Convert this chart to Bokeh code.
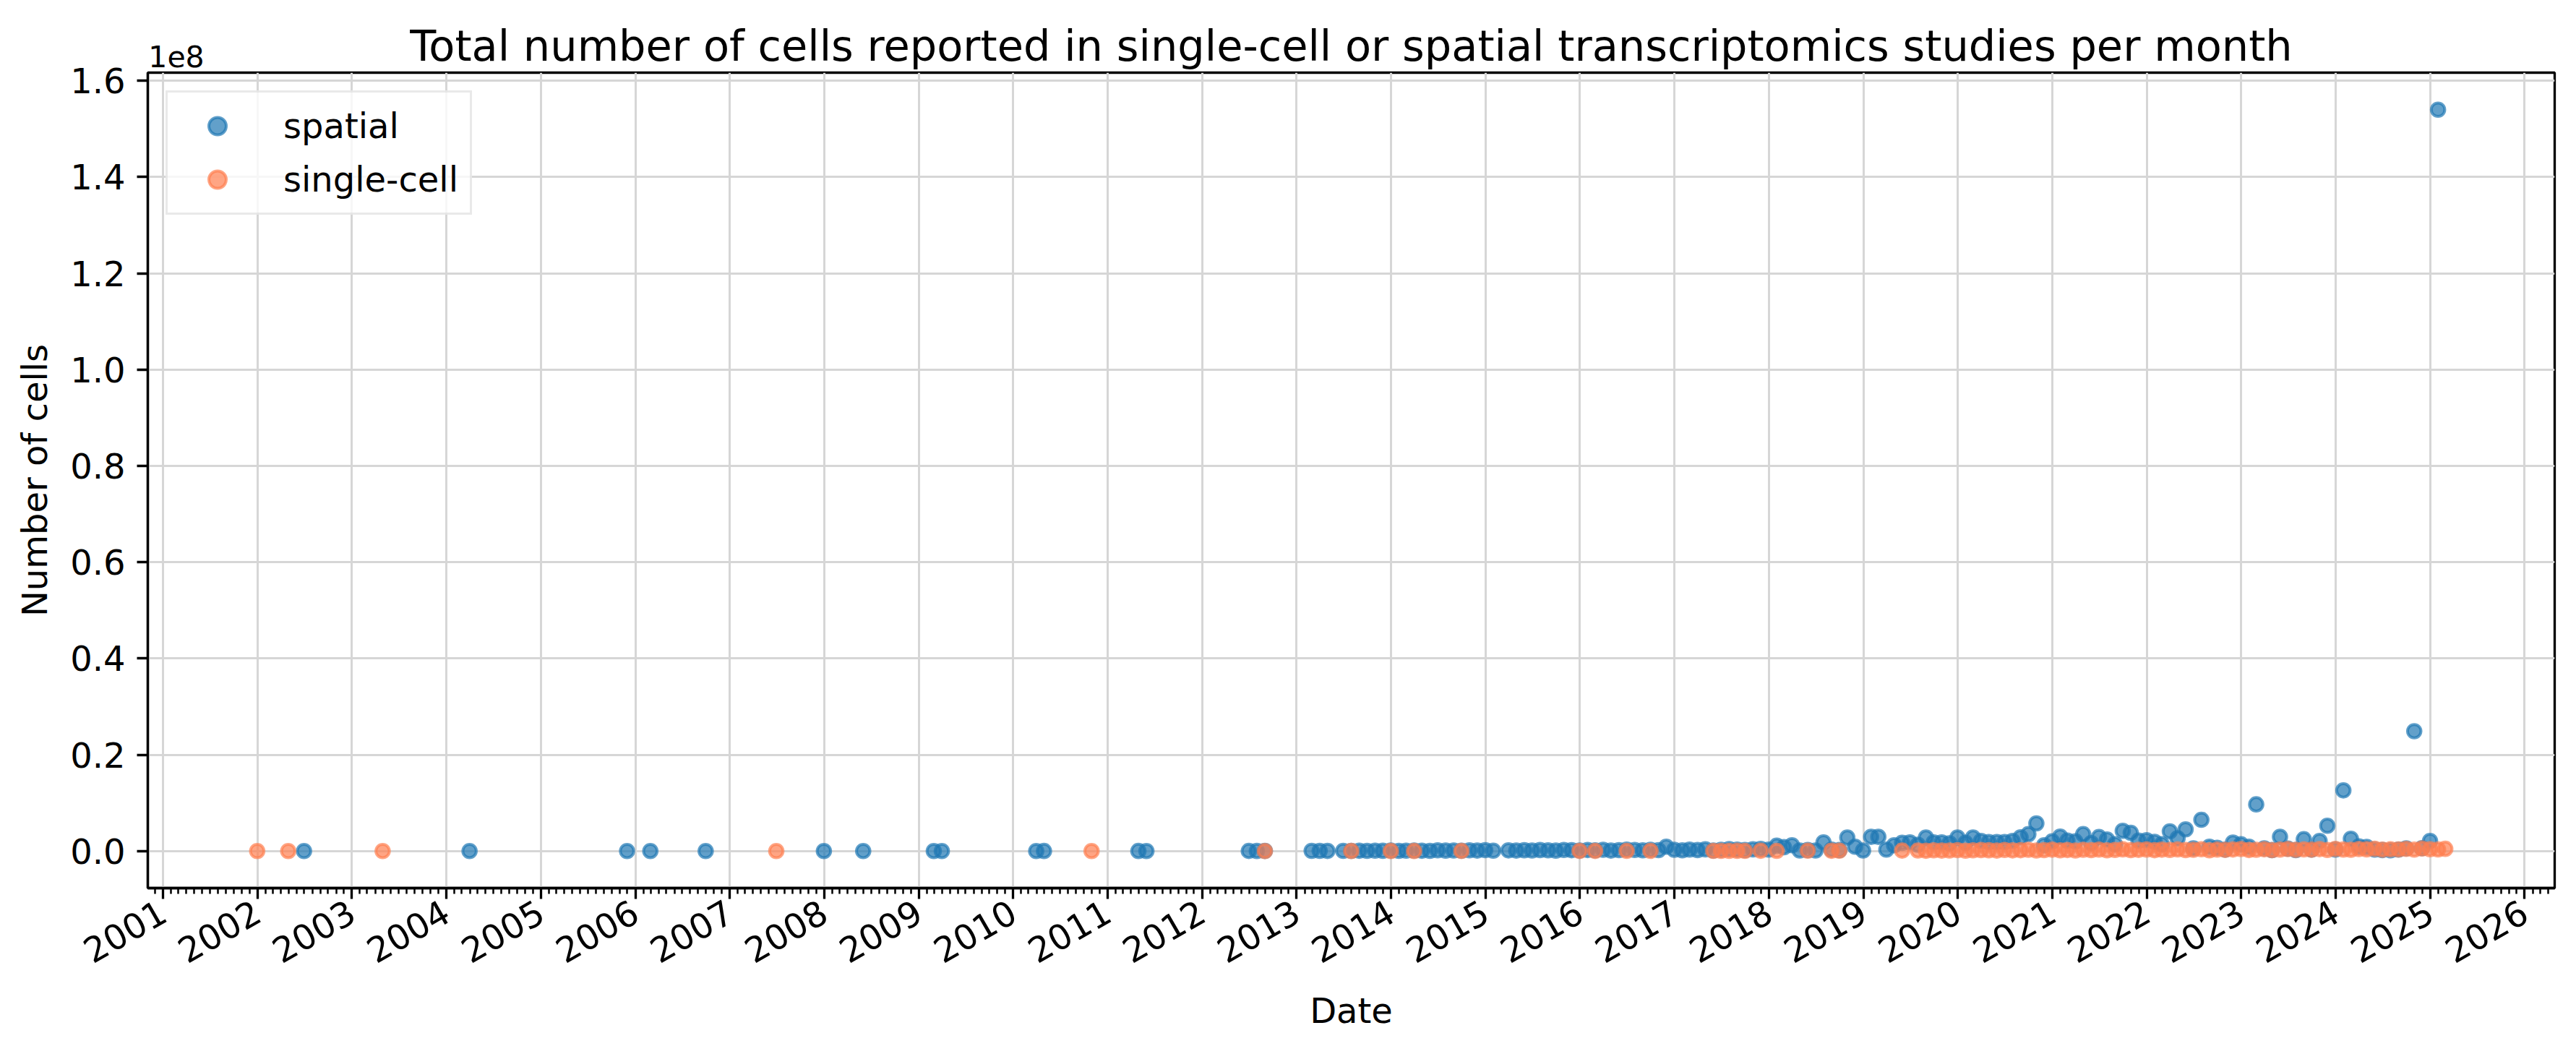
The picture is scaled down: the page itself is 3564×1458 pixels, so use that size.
import math
import pandas as pd
from bokeh.plotting import figure
from bokeh.models import (ColumnDataSource, Range1d, FixedTicker, SingleIntervalTicker, LinearAxis,
                          DatetimeTickFormatter, CustomJSTickFormatter, Legend, LegendItem)
from bokeh.embed import file_html
from bokeh.resources import INLINE

# ---------------- data (monthly totals) ----------------
spatial_months = [
    "2002-06", "2004-03", "2005-11", "2006-02", "2006-09", "2007-12", "2008-05",
    "2009-02", "2009-03", "2010-03", "2010-04", "2011-04", "2011-05",
    "2012-06", "2012-07", "2012-08", "2013-02", "2013-03", "2013-04",
    "2013-06", "2013-07", "2013-08", "2013-09", "2013-10", "2013-11", "2013-12",
    "2014-01", "2014-02", "2014-03", "2014-04", "2014-05", "2014-06",
    "2014-07", "2014-08", "2014-09", "2014-10", "2014-11", "2014-12",
    "2015-01", "2015-03", "2015-04", "2015-05", "2015-06", "2015-07", "2015-08",
    "2015-09", "2015-10", "2015-11", "2015-12",
    "2016-01", "2016-02", "2016-03", "2016-04", "2016-05", "2016-06",
    "2016-07", "2016-08", "2016-09", "2016-10", "2016-11", "2016-12",
    "2017-01", "2017-02", "2017-03", "2017-04", "2017-05", "2017-06",
    "2017-07", "2017-08", "2017-09", "2017-10", "2017-11", "2017-12",
    "2018-01", "2018-02", "2018-03", "2018-04", "2018-05", "2018-06",
    "2018-07", "2018-08", "2018-09", "2018-10", "2018-11", "2018-12",
    "2019-01", "2019-02", "2019-03", "2019-04", "2019-05", "2019-06",
    "2019-07", "2019-08", "2019-09", "2019-10", "2019-11", "2019-12",
    "2020-01", "2020-02", "2020-03", "2020-04", "2020-05", "2020-06",
    "2020-07", "2020-08", "2020-09", "2020-10", "2020-11", "2020-12",
    "2021-01", "2021-02", "2021-03", "2021-04", "2021-05", "2021-06",
    "2021-07", "2021-08", "2021-09", "2021-10", "2021-11", "2021-12",
    "2022-01", "2022-02", "2022-03", "2022-04", "2022-05", "2022-06",
    "2022-07", "2022-08", "2022-09", "2022-10", "2022-11", "2022-12",
    "2023-01", "2023-02", "2023-03", "2023-04", "2023-05", "2023-06",
    "2023-07", "2023-08", "2023-09", "2023-10", "2023-11", "2023-12",
    "2024-01", "2024-02", "2024-03", "2024-04", "2024-05", "2024-06",
    "2024-07", "2024-08", "2024-09", "2024-10", "2024-11", "2024-12",
    "2025-01",
]
spatial_cells = [
    1200, 3000, 2500, 4000, 1500, 6000, 2000,
    8000, 3000, 5000, 12000, 9000, 7000,
    15000, 10000, 20000, 30000, 25000, 18000,
    40000, 25000, 60000, 35000, 80000, 50000, 90000,
    45000, 70000, 120000, 60000, 30000, 150000,
    85000, 110000, 65000, 140000, 95000, 180000,
    75000, 130000, 90000, 160000, 110000, 200000, 140000,
    85000, 230000, 170000, 120000,
    210000, 150000, 260000, 95000, 180000, 300000,
    220000, 140000, 270000, 190000, 900000, 250000,
    150000, 300000, 200000, 350000, 100000, 250000,
    400000, 300000, 200000, 350000, 450000, 300000,
    1100000, 800000, 1200000, 100000, 200000, 100000,
    1800000, 300000, 200000, 2800000, 900000, 100000,
    2950000, 2950000, 300000, 1200000, 1700000, 1800000,
    1300000, 2800000, 1800000, 1800000, 1600000, 2800000,
    1700000, 2800000, 2100000, 1850000, 1850000, 1850000,
    2100000, 2850000, 3500000, 5750000, 1200000, 2000000,
    3000000, 2150000, 2000000, 3500000, 1650000, 2900000,
    2400000, 1400000, 4200000, 3800000, 2150000, 2250000,
    1900000, 1400000, 4100000, 2650000, 4500000, 550000,
    6500000, 900000, 650000, 300000, 1750000, 1400000,
    900000, 9700000, 550000, 200000, 2950000, 500000,
    200000, 2450000, 300000, 2100000, 5250000, 300000,
    12600000, 2550000, 950000, 850000, 300000, 200000,
    150000, 300000, 550000, 24900000, 600000, 2100000,
    154000000,
]

single_months = [
    "2001-12", "2002-04", "2003-04", "2007-06", "2010-10", "2012-08",
    "2013-07", "2013-12", "2014-03", "2014-09", "2015-12", "2016-02",
    "2016-06", "2016-09", "2017-05", "2017-06", "2017-07", "2017-08",
    "2017-09", "2017-11", "2018-01", "2018-05", "2018-08", "2018-09",
    "2019-05", "2019-07", "2019-08", "2019-09", "2019-10", "2019-11", "2019-12",
    "2020-01", "2020-02", "2020-03", "2020-04", "2020-05", "2020-06",
    "2020-07", "2020-08", "2020-09", "2020-10", "2020-11", "2020-12",
    "2021-01", "2021-02", "2021-03", "2021-04", "2021-05", "2021-06",
    "2021-07", "2021-08", "2021-09", "2021-10", "2021-11", "2021-12",
    "2022-01", "2022-02", "2022-03", "2022-04", "2022-05", "2022-06",
    "2022-07", "2022-08", "2022-09", "2022-10", "2022-11", "2022-12",
    "2023-01", "2023-02", "2023-03", "2023-04", "2023-05", "2023-06",
    "2023-07", "2023-08", "2023-09", "2023-10", "2023-11", "2023-12",
    "2024-01", "2024-02", "2024-03", "2024-04", "2024-05", "2024-06",
    "2024-07", "2024-08", "2024-09", "2024-10", "2024-11", "2024-12",
    "2025-01", "2025-02",
]
single_cells = [
    400, 1000, 1500, 2000, 5000, 8000,
    10000, 12000, 9000, 15000, 20000, 18000,
    25000, 30000, 40000, 22000, 35000, 50000,
    28000, 60000, 45000, 80000, 55000, 70000,
    90000, 120000, 60000, 150000, 95000, 110000, 180000,
    75000, 140000, 200000, 160000, 90000, 230000,
    130000, 170000, 250000, 110000, 190000, 280000,
    150000, 210000, 120000, 260000, 180000, 300000,
    140000, 220000, 350000, 190000, 240000, 310000,
    170000, 280000, 230000, 330000, 200000, 260000,
    380000, 150000, 290000, 240000, 320000, 410000,
    210000, 270000, 360000, 190000, 300000, 420000,
    250000, 330000, 280000, 390000, 230000, 450000,
    310000, 260000, 400000, 350000, 480000, 290000,
    370000, 330000, 440000, 300000, 520000, 380000,
    340000, 460000,
]

year_ticks = list(range(2001, 2027))
series_names = ["spatial", "single-cell"]
series_colors = ["#1f77b4", "#ff7f50"]
title_text = "Total number of cells reported in single-cell or spatial transcriptomics studies per month"
offset_text = "1e8"

# ---------------- processing ----------------
def month_end(months):
    return pd.PeriodIndex(months, freq="M").to_timestamp(how="end").normalize()

sp_x = month_end(spatial_months)
sc_x = month_end(single_months)

src_sp = ColumnDataSource(dict(x=sp_x, y=spatial_cells))
src_sc = ColumnDataSource(dict(x=sc_x, y=single_cells))

all_x = sp_x.append(sc_x)
xmin, xmax = all_x.min(), all_x.max()
xspan = xmax - xmin
x0 = xmin - 0.05 * xspan
x1 = xmax + 0.05 * xspan
all_y = list(spatial_cells) + list(single_cells)
ymin, ymax = min(all_y), max(all_y)
yspan = ymax - ymin
y0 = ymin - 0.05 * yspan
y1 = ymax + 0.05 * yspan

def ms(ts):
    return pd.Timestamp(ts).value / 1e6

FONT = "DejaVu Sans"
W, H = 3564, 1458
BL, BR, BT, BB = 204, 30, 100, 230
frame_w = W - BL - BR

p = figure(width=W, height=H, x_axis_type="datetime",
           output_backend="svg", toolbar_location=None, title=None,
           x_range=Range1d(ms(x0), ms(x1)), y_range=Range1d(y0, y1),
           min_border_left=BL, min_border_right=BR,
           min_border_top=BT, min_border_bottom=BB)

p.background_fill_color = "white"
p.border_fill_color = "white"
p.outline_line_color = "black"
p.outline_line_width = 3.3

# x axis
major = [ms(f"{y}-01-01") for y in year_ticks]
minor = [ms(t) for t in pd.date_range(pd.Timestamp(x0).to_period("M").to_timestamp(),
                                       x1, freq="MS")]
p.xaxis.ticker = FixedTicker(ticks=major, minor_ticks=minor)
p.xaxis.formatter = DatetimeTickFormatter(years="%Y", months="%Y", days="%Y", hours="%Y",
                                          hourmin="%Y", minutes="%Y", minsec="%Y",
                                          seconds="%Y", milliseconds="%Y", microseconds="%Y")
p.xaxis.major_label_orientation = math.pi / 6
p.xaxis.axis_label = "Date"

# y axis
p.yaxis.ticker = SingleIntervalTicker(interval=2e7, num_minor_ticks=0)
p.yaxis.formatter = CustomJSTickFormatter(code="return (tick / 1e8).toFixed(1);")
p.yaxis.axis_label = "Number of cells"

for ax in (p.xaxis[0], p.yaxis[0]):
    ax.axis_line_color = "black"
    ax.axis_line_width = 3.3
    ax.major_tick_line_color = "black"
    ax.major_tick_line_width = 3.3
    ax.major_tick_out = 15
    ax.major_tick_in = 0
    ax.minor_tick_line_color = "black"
    ax.minor_tick_line_width = 2.5
    ax.minor_tick_out = 8
    ax.minor_tick_in = 0
    ax.major_label_text_font = FONT
    ax.major_label_text_font_size = "48px"
    ax.major_label_text_color = "black"
    ax.axis_label_text_font = FONT
    ax.axis_label_text_font_size = "48px"
    ax.axis_label_text_font_style = "normal"
    ax.axis_label_text_color = "black"

p.xaxis.major_label_standoff = 14
p.xaxis.axis_label_standoff = 18
p.yaxis.major_label_standoff = 16
p.yaxis.axis_label_standoff = 18

p.xgrid.grid_line_color = "#d6d6d6"
p.ygrid.grid_line_color = "#d6d6d6"
p.xgrid.grid_line_width = 3
p.ygrid.grid_line_width = 3

# top "axis": carries the scientific offset text as its only tick label and the title as its label
ms_per_px = (ms(x1) - ms(x0)) / frame_w
offset_pos = ms(x0) + 39.5 * ms_per_px
top = LinearAxis(ticker=FixedTicker(ticks=[offset_pos], minor_ticks=[]),
                 formatter=CustomJSTickFormatter(code=f"return '{offset_text}';"),
                 axis_label=title_text)
top.axis_line_color = None
top.major_tick_line_color = None
top.minor_tick_line_color = None
top.major_tick_out = 0
top.major_tick_in = 0
top.major_label_standoff = 8
top.major_label_text_font = FONT
top.major_label_text_font_size = "41px"
top.major_label_text_color = "black"
top.axis_label_text_font = FONT
top.axis_label_text_font_size = "59px"
top.axis_label_text_font_style = "normal"
top.axis_label_text_color = "black"
top.axis_label_standoff = -38
p.add_layout(top, "above")

# scatter
r1 = p.scatter("x", "y", source=src_sp, size=18.6, line_width=4,
               fill_color=series_colors[0], line_color=series_colors[0],
               fill_alpha=0.7, line_alpha=0.7)
r2 = p.scatter("x", "y", source=src_sc, size=18.6, line_width=4,
               fill_color=series_colors[1], line_color=series_colors[1],
               fill_alpha=0.7, line_alpha=0.7)

legend = Legend(items=[LegendItem(label=series_names[0], renderers=[r1]),
                       LegendItem(label=series_names[1], renderers=[r2])],
                location="top_left", margin=25, padding=16, spacing=14,
                glyph_height=60, glyph_width=105, label_standoff=39, label_height=60,
                label_text_font=FONT, label_text_font_size="48px", label_text_color="black",
                border_line_color="#d3d3d3", border_line_width=3,
                background_fill_color="white", background_fill_alpha=0.8)
p.add_layout(legend)

open("out.html", "w").write(file_html(p, INLINE))
